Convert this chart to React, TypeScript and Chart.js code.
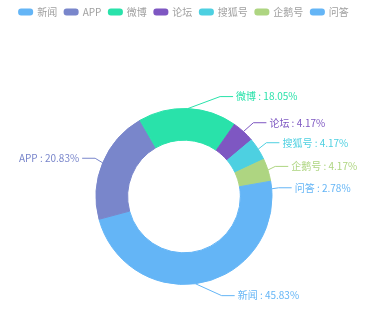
import React, { useEffect, useRef } from 'react';
import { Chart, registerables } from 'chart.js';

Chart.register(...registerables);

const categories = ['新闻', 'APP', '微博', '论坛', '搜狐号', '企鹅号', '问答'];
const values = [45.83, 20.83, 18.05, 4.17, 4.17, 4.17, 2.78];
const colors = ['#64b5f6', '#7986cb', '#29e2aa', '#7e57c2', '#4dd0e1', '#aed581', '#64b5f6'];

const FONT = "'Microsoft YaHei', 'Noto Sans CJK SC', sans-serif";

const legendPlugin = {
  id: 'topLegend',
  afterDraw(chart: any) {
    const ctx = chart.ctx;
    ctx.save();
    ctx.font = `10px ${FONT}`;
    const boxW = 15, boxH = 7, gap = 4, itemGap = 6.5;
    const widths = categories.map((c) => ctx.measureText(c).width);
    const total = widths.reduce((s, w) => s + boxW + gap + w, 0) + itemGap * (categories.length - 1);
    let x = 183.5 - total / 2;
    const y = 12;
    categories.forEach((c, i) => {
      ctx.fillStyle = colors[i];
      ctx.beginPath();
      if ((ctx as any).roundRect) (ctx as any).roundRect(x, y - boxH / 2, boxW, boxH, 3);
      else ctx.rect(x, y - boxH / 2, boxW, boxH);
      ctx.fill();
      ctx.fillStyle = '#a0a0a0';
      ctx.textBaseline = 'middle';
      ctx.textAlign = 'left';
      ctx.fillText(c, x + boxW + gap, y);
      x += boxW + gap + widths[i] + itemGap;
    });
    ctx.restore();
  },
};

const labelPlugin = {
  id: 'outerLabels',
  afterDatasetsDraw(chart: any) {
    const ctx = chart.ctx;
    const meta = chart.getDatasetMeta(0);
    ctx.save();
    ctx.font = `10px ${FONT}`;
    ctx.lineWidth = 1;
    meta.data.forEach((arc: any, i: number) => {
      const { x: cx, y: cy, startAngle, endAngle, outerRadius: r } = arc.getProps(
        ['x', 'y', 'startAngle', 'endAngle', 'outerRadius'],
        true
      );
      const mid = (startAngle + endAngle) / 2;
      const px = cx + r * Math.cos(mid);
      const py = cy + r * Math.sin(mid);
      const dy = (r + 12) * Math.sin(mid);
      const rA = r + 7;
      const rB = r + 20;
      const dir = Math.cos(mid) >= 0 ? 1 : -1;
      const dx = rA * Math.sqrt(Math.max(0, 1 - (dy * dy) / (rB * rB)));
      const ex = cx + dir * dx;
      const ey = cy + dy;
      const len2 = 13;
      const hx = ex + dir * len2;
      ctx.strokeStyle = colors[i];
      ctx.beginPath();
      ctx.moveTo(px, py);
      ctx.lineTo(ex, ey);
      ctx.lineTo(hx, ey);
      ctx.stroke();
      ctx.fillStyle = colors[i];
      ctx.textBaseline = 'middle';
      ctx.textAlign = dir > 0 ? 'left' : 'right';
      ctx.fillText(`${categories[i]} : ${values[i].toFixed(2)}%`, hx + dir * 3, ey);
    });
    ctx.restore();
  },
};

export default function App() {
  const ref = useRef<HTMLCanvasElement>(null);
  useEffect(() => {
    if (!ref.current) return;
    const chart = new Chart(ref.current, {
      type: 'doughnut',
      data: {
        labels: categories,
        datasets: [
          {
            data: values,
            backgroundColor: colors,
            borderColor: colors,
            borderWidth: 1,
            hoverOffset: 0,
          },
        ],
      },
      options: {
        responsive: false,
        animation: false,
        rotation: 90,
        cutout: '64%',
        layout: { padding: { left: 95.5, right: 117.5, top: 108, bottom: 27 } },
        plugins: {
          legend: { display: false },
          tooltip: { enabled: false },
        },
      },
      plugins: [legendPlugin, labelPlugin],
    });
    return () => chart.destroy();
  }, []);
  return (
    <div style={{ position: 'absolute', left: 0, top: 0, width: 390, height: 312, background: '#fff' }}>
      <canvas ref={ref} width={390} height={312} style={{ width: 390, height: 312 }} />
    </div>
  );
}
